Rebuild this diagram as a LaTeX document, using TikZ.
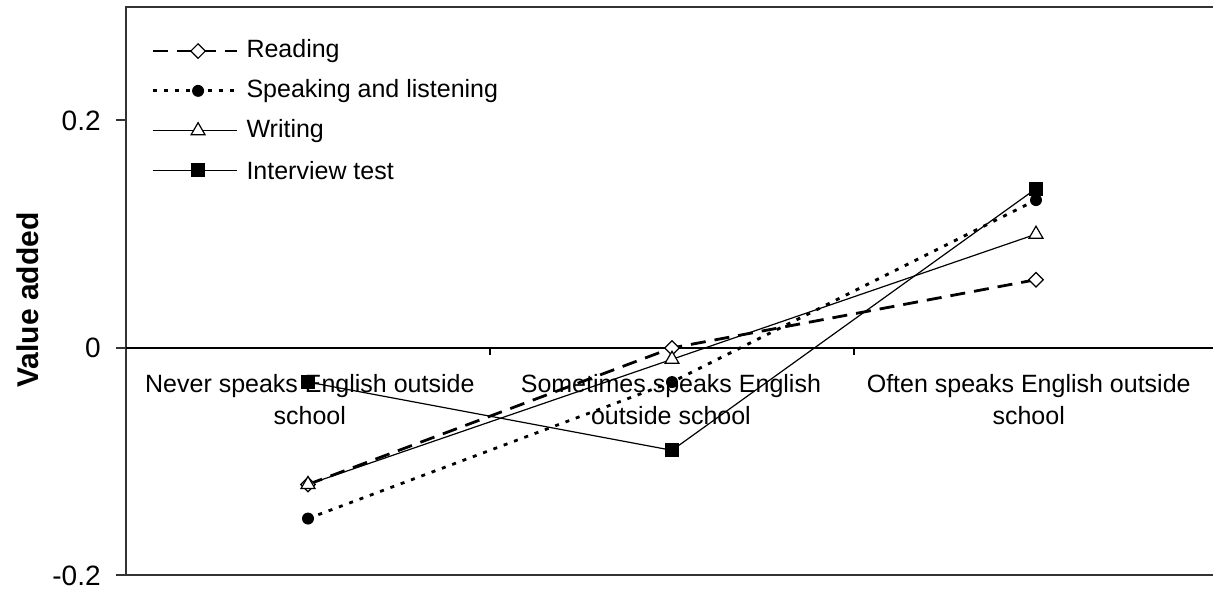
\documentclass[tikz,border=0pt]{standalone}
\usepackage{fontspec}
\setmainfont{Liberation Sans}
\usetikzlibrary{shapes.geometric}

\tikzset{
  frame/.style={line width=1pt, black!80},
  axisline/.style={line width=0.8pt},
  catlab/.style={align=center, inner sep=0pt, font=\fontsize{12.5}{16}\selectfont},
  ticklab/.style={anchor=east, inner sep=0pt, font=\fontsize{14}{16}\selectfont},
  leglab/.style={anchor=west, inner sep=0pt, font=\fontsize{12.5}{15}\selectfont},
  readline/.style={line width=1.4pt, dash pattern=on 7.5pt off 4.5pt},
  speakline/.style={line width=1.4pt, dash pattern=on 2pt off 3.5pt},
  thinline/.style={line width=0.6pt},
  readmark/.style={diamond, draw, fill=white, line width=0.6pt, inner sep=0pt, minimum size=7.5pt},
  speakmark/.style={circle, fill=black, inner sep=0pt, minimum size=6pt},
  writemark/.style={regular polygon, regular polygon sides=3, draw, fill=white, line width=0.6pt, inner sep=0pt, minimum size=8pt},
  intmark/.style={rectangle, fill=black, inner sep=0pt, minimum size=7pt}
}

\begin{document}
\begin{tikzpicture}[x=182pt, y=568.75pt]
    \useasboundingbox (-0.3462,-0.2163) rectangle (2.9863,0.3059);

    % plot area and axes
    \draw[frame] (2.99,0.3) -- (0,0.3) -- (0,-0.2) -- (2.99,-0.2);
    \draw[axisline] (0,0) -- (2.99,0);
    \foreach \i in {1,2}
        \draw[axisline] (\i,0) -- ++(0,-3.5pt);
    \foreach \v in {0.2,0,-0.2}
        \draw[frame] (0,\v) -- ++(-5pt,0);
    \node[ticklab] (ytop) at ([xshift=-12.5pt]0,0.2) {0.2};
    \node[ticklab] (ymid) at ([xshift=-12.5pt]0,0) {0};
    \node[ticklab] (ybot) at ([xshift=-12.5pt]0,-0.2) {-0.2};
    \node[rotate=90, font=\bfseries\fontsize{15}{18}\selectfont] (ytitle) at (-0.269,0.042) {Value added};

    % categories
    \node[catlab] (never) at (0.505,-0.045) {Never speaks English outside\\school};
    \node[catlab] (sometimes) at (1.497,-0.045) {Sometimes speaks English\\outside school};
    \node[catlab] (often) at (2.48,-0.045) {Often speaks English outside\\school};

    % data points
    \coordinate (r1) at (0.5,-0.12);
    \coordinate (r2) at (1.5,0);
    \coordinate (r3) at (2.5,0.06);
    \coordinate (s1) at (0.5,-0.15);
    \coordinate (s2) at (1.5,-0.03);
    \coordinate (s3) at (2.5,0.13);
    \coordinate (w1) at (0.5,-0.12);
    \coordinate (w2) at (1.5,-0.01);
    \coordinate (w3) at (2.5,0.10);
    \coordinate (i1) at (0.5,-0.03);
    \coordinate (i2) at (1.5,-0.09);
    \coordinate (i3) at (2.5,0.14);

    \draw[readline] (r1) -- (r2) -- (r3);
    \draw[speakline] (s1) -- (s2) -- (s3);
    \draw[thinline] (w1) -- (w2) -- (w3);
    \draw[thinline] (i1) -- (i2) -- (i3);

    \foreach \p in {1,2,3} {
        \node[readmark] (rm\p) at (r\p) {};
        \node[speakmark] (sm\p) at (s\p) {};
        \node[writemark] (wm\p) at (w\p) {};
        \node[intmark] (im\p) at (i\p) {};
    }

    % legend
    \coordinate (lr0) at (0.074,0.261);
    \coordinate (lr1) at (0.305,0.261);
    \coordinate (ls0) at (0.074,0.226);
    \coordinate (ls1) at (0.305,0.226);
    \coordinate (lw0) at (0.074,0.191);
    \coordinate (lw1) at (0.305,0.191);
    \coordinate (li0) at (0.074,0.156);
    \coordinate (li1) at (0.305,0.156);

    \draw[readline] (lr0) -- (lr1);
    \draw[speakline] (ls0) -- (ls1);
    \draw[thinline] (lw0) -- (lw1);
    \draw[thinline] (li0) -- (li1);

    \node[readmark] (lrm) at (0.198,0.261) {};
    \node[speakmark] (lsm) at (0.198,0.226) {};
    \node[writemark] (lwm) at (0.198,0.191) {};
    \node[intmark] (lim) at (0.198,0.156) {};

    \node[leglab] (lrt) at (0.330,0.261) {Reading};
    \node[leglab] (lst) at (0.330,0.226) {Speaking and listening};
    \node[leglab] (lwt) at (0.330,0.191) {Writing};
    \node[leglab] (lit) at (0.330,0.156) {Interview test};
\end{tikzpicture}
\end{document}
